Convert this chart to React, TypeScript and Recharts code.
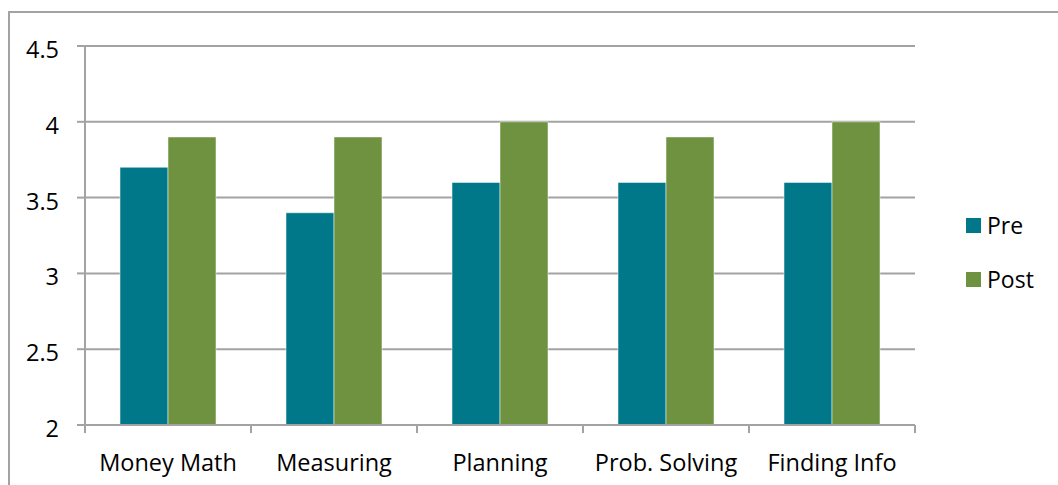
import React from "react";
import { BarChart, Bar, XAxis, YAxis, CartesianGrid } from "recharts";

const categories = ["Money Math", "Measuring", "Planning", "Prob. Solving", "Finding Info"];
const preScores = [3.7, 3.4, 3.6, 3.6, 3.6];
const postScores = [3.9, 3.9, 4.0, 3.9, 4.0];
const yTicks = [2, 2.5, 3, 3.5, 4, 4.5];

const data = categories.map((name, i) => ({
  name,
  Pre: preScores[i],
  Post: postScores[i],
}));

const W = 1058;
const H = 485;
const PLOT_LEFT = 85;
const PLOT_RIGHT = 915;
const PLOT_TOP = 46;
const PLOT_BOTTOM = 425;
const HALF_BAND = (PLOT_RIGHT - PLOT_LEFT) / categories.length / 2;

const FONT = "'Open Sans', sans-serif";
const GRAY = "#A3A3A3";
const TEAL = "#00788A";
const GREEN = "#6E9240";

const series = [
  { key: "Pre", color: TEAL },
  { key: "Post", color: GREEN },
];

// category labels with Excel-style tick marks on the band boundaries
const XTick = (props: any) => {
  const { x, y, payload, index } = props;
  const last = index === categories.length - 1;
  return (
    <g>
      <line x1={x - HALF_BAND} x2={x - HALF_BAND} y1={y} y2={y + 8} stroke={GRAY} strokeWidth={2} />
      {last && <line x1={x + HALF_BAND} x2={x + HALF_BAND} y1={y} y2={y + 8} stroke={GRAY} strokeWidth={2} />}
      <text x={x} y={y + 46} textAnchor="middle" fill="#000" fontSize={23.5} fontFamily={FONT}>
        {payload.value}
      </text>
    </g>
  );
};

const YTick = (props: any) => {
  const { x, y, payload } = props;
  return (
    <text x={x} y={y + 12} textAnchor="end" fill="#000" fontSize={23.5} fontFamily={FONT}>
      {payload.value}
    </text>
  );
};

// legend sits to the right of the plot, outside the chart's layout
const LegendBox = () => (
  <div style={{ position: "absolute", left: 966, top: 198, fontFamily: FONT, fontSize: 23, color: "#000" }}>
    {series.map((s) => (
      <div key={s.key} style={{ display: "flex", alignItems: "center", height: 54 }}>
        <span style={{ width: 15, height: 15, background: s.color, marginRight: 6 }} />
        <span>{s.key}</span>
      </div>
    ))}
  </div>
);

export default function App() {
  return (
    <div style={{ position: "absolute", left: 0, top: 0, width: W, height: H, background: "#fff", overflow: "hidden" }}>
      <div
        style={{
          position: "absolute",
          left: 8,
          top: 11,
          width: W,
          height: H,
          borderTop: `2px solid ${GRAY}`,
          borderLeft: `2px solid ${GRAY}`,
        }}
      />
      <div style={{ position: "absolute", left: 0, top: 0 }}>
        <BarChart
          width={W}
          height={H}
          data={data}
          margin={{ top: PLOT_TOP, right: W - PLOT_RIGHT, left: 0, bottom: 0 }}
          barSize={48}
          barGap={0}
        >
          <CartesianGrid vertical={false} stroke={GRAY} strokeWidth={2} />
          <XAxis
            dataKey="name"
            height={H - PLOT_BOTTOM}
            axisLine={{ stroke: GRAY, strokeWidth: 2 }}
            tickLine={false}
            tickSize={0}
            tickMargin={0}
            interval={0}
            tick={<XTick />}
          />
          <YAxis
            width={PLOT_LEFT}
            domain={[2, 4.5]}
            ticks={yTicks}
            interval={0}
            axisLine={{ stroke: GRAY, strokeWidth: 2 }}
            tickLine={{ stroke: GRAY, strokeWidth: 2 }}
            tickSize={8}
            tickMargin={18}
            tick={<YTick />}
          />
          {series.map((s) => (
            <Bar key={s.key} dataKey={s.key} fill={s.color} stroke="#fff" strokeWidth={0.5} isAnimationActive={false} />
          ))}
        </BarChart>
      </div>
      <LegendBox />
    </div>
  );
}
